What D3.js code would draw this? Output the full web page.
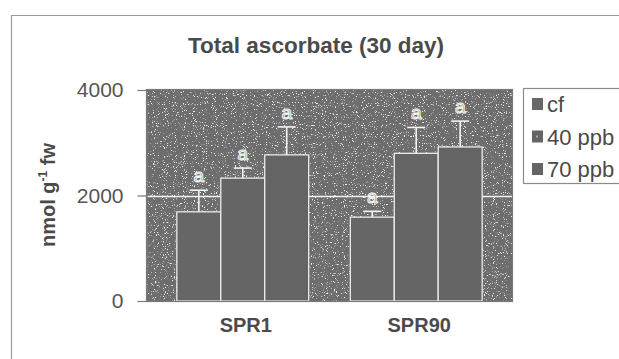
<!DOCTYPE html>
<html>
<head>
<meta charset="utf-8">
<script src="https://cdn.jsdelivr.net/npm/d3@7/dist/d3.min.js"></script>
<style>
  html, body { margin: 0; padding: 0; background: #fff; }
  svg { display: block; font-family: "Liberation Sans", Arial, sans-serif; }
</style>
</head>
<body>
<svg id="chart" width="619" height="359"></svg>
<script>
// Total ascorbate after 30 days, two lines under three ozone treatments
const categories = ["SPR1", "SPR90"];
const seriesNames = ["cf", "40 ppb", "70 ppb"];
const cfValues = [1690, 1590];
const ppb40Values = [2330, 2800];
const ppb70Values = [2770, 2920];
const cfErrors = [410, 110];
const ppb40Errors = [190, 490];
const ppb70Errors = [530, 490];
const cfLetters = ["a", "a"];
const ppb40Letters = ["a", "a"];
const ppb70Letters = ["a", "a"];
const yTicks = [0, 2000, 4000];

const rows = [];
categories.forEach((c, i) => {
  rows.push({ cat: c, series: "cf", value: cfValues[i], err: cfErrors[i], letter: cfLetters[i] });
  rows.push({ cat: c, series: "40 ppb", value: ppb40Values[i], err: ppb40Errors[i], letter: ppb40Letters[i] });
  rows.push({ cat: c, series: "70 ppb", value: ppb70Values[i], err: ppb70Errors[i], letter: ppb70Letters[i] });
});

const svg = d3.select("#chart");
const plot = { left: 146.5, right: 512.5, top: 90, bottom: 301 };

const y = d3.scaleLinear().domain([0, 4000]).range([plot.bottom, plot.top]);
const x0 = d3.scaleBand().domain(categories).range([plot.left, plot.right])
  .paddingInner(0.24).paddingOuter(0.175);
const x1 = d3.scaleBand().domain(seriesNames).range([0, x0.bandwidth()]);

const barFill = { "cf": "#666666", "40 ppb": "#656565", "70 ppb": "#646464" };

// grainy plot-area texture
const defs = svg.append("defs");
const f = defs.append("filter").attr("id", "grain")
  .attr("x", 0).attr("y", 0).attr("width", 1).attr("height", 1);
f.append("feTurbulence").attr("type", "fractalNoise").attr("baseFrequency", 0.9)
  .attr("numOctaves", 2).attr("seed", 7).attr("result", "noise");
f.append("feColorMatrix").attr("in", "noise").attr("type", "matrix")
  .attr("values", "0 0 0 0 1  0 0 0 0 1  0 0 0 0 1  8 0 0 0 -4.9").attr("result", "specks");
f.append("feComposite").attr("in", "specks").attr("in2", "SourceAlpha").attr("operator", "in");

// outer chart frame
svg.append("line").attr("x1", 11).attr("x2", 619).attr("y1", 15.5).attr("y2", 15.5)
  .attr("stroke", "#9a9a9a").attr("stroke-width", 1.2);
svg.append("line").attr("x1", 11.5).attr("x2", 11.5).attr("y1", 15).attr("y2", 359)
  .attr("stroke", "#9a9a9a").attr("stroke-width", 1.2);

// title
svg.append("text").attr("x", 316).attr("y", 53).attr("text-anchor", "middle")
  .attr("font-size", 22.5).attr("font-weight", "bold").attr("fill", "#4a4a4a")
  .text("Total ascorbate (30 day)");

// plot background
svg.append("rect").attr("x", plot.left).attr("y", plot.top)
  .attr("width", plot.right - plot.left).attr("height", plot.bottom - plot.top)
  .attr("fill", "#6d6d6d");
svg.append("rect").attr("x", plot.left).attr("y", plot.top)
  .attr("width", plot.right - plot.left).attr("height", plot.bottom - plot.top)
  .attr("fill", "#fff").attr("filter", "url(#grain)").attr("opacity", 0.9);

// gridline
svg.append("g").selectAll("line").data(yTicks.filter(t => t > 0 && t < 4000)).join("line")
  .attr("x1", plot.left).attr("x2", plot.right)
  .attr("y1", d => Math.round(y(d)) + 0.5).attr("y2", d => Math.round(y(d)) + 0.5)
  .attr("stroke", "#f2f2f2").attr("stroke-width", 1.3);

// bars
const groups = svg.append("g").selectAll("g").data(categories).join("g")
  .attr("transform", d => `translate(${x0(d)},0)`);
groups.selectAll("rect").data(c => rows.filter(r => r.cat === c)).join("rect")
  .attr("x", d => x1(d.series)).attr("width", x1.bandwidth())
  .attr("y", d => y(d.value)).attr("height", d => y(0) - y(d.value))
  .attr("fill", d => barFill[d.series]).attr("stroke", "#f4f4f4").attr("stroke-width", 1.2);

// error bars
const eb = groups.selectAll("g.err").data(c => rows.filter(r => r.cat === c)).join("g")
  .attr("class", "err")
  .attr("transform", d => `translate(${x1(d.series) + x1.bandwidth() / 2},0)`);
eb.append("line").attr("x1", 0).attr("x2", 0)
  .attr("y1", d => y(d.value)).attr("y2", d => y(d.value + d.err))
  .attr("stroke", "#f4f4f4").attr("stroke-width", 1.6);
eb.append("line").attr("x1", -9).attr("x2", 9)
  .attr("y1", d => y(d.value + d.err)).attr("y2", d => y(d.value + d.err))
  .attr("stroke", "#f4f4f4").attr("stroke-width", 1.6);
eb.append("text").attr("x", 0).attr("y", d => y(d.value + d.err) - 8)
  .attr("text-anchor", "middle").attr("font-size", 19)
  .attr("fill", "#6a6a6a").attr("stroke", "#f4f4f4").attr("stroke-width", 1.1)
  .text(d => d.letter);

// plot border
svg.append("rect").attr("x", plot.left).attr("y", plot.top - 0.5)
  .attr("width", plot.right - plot.left).attr("height", plot.bottom - plot.top + 1)
  .attr("fill", "none").attr("stroke", "#7a7a7a").attr("stroke-width", 1.2);

// y axis
const yAxis = svg.append("g").attr("transform", `translate(${plot.left},0)`)
  .call(d3.axisLeft(y).tickValues(yTicks).tickFormat(d3.format("d"))
    .tickSize(9).tickSizeOuter(0).tickPadding(14));
yAxis.select(".domain").attr("stroke", "#777").attr("stroke-width", 1.2);
yAxis.selectAll(".tick line").attr("stroke", "#777").attr("stroke-width", 1.2);
yAxis.selectAll(".tick text").attr("font-size", 21).attr("fill", "#555")
  .attr("font-family", "'Liberation Sans', Arial, sans-serif");

// y axis title
const yt = svg.append("text").attr("transform", "translate(55,195) rotate(-90)")
  .attr("text-anchor", "middle").attr("font-size", 20).attr("font-weight", "bold").attr("fill", "#4a4a4a");
yt.append("tspan").text("nmol g");
yt.append("tspan").attr("font-size", 12).attr("dy", -8).text("-1");
yt.append("tspan").attr("dy", 8).text(" fw");

// category labels
svg.append("g").selectAll("text").data(categories).join("text")
  .attr("x", d => x0(d) + x0.bandwidth() / 2 + 3).attr("y", 332)
  .attr("text-anchor", "middle").attr("font-size", 20).attr("font-weight", "bold")
  .attr("fill", "#4a4a4a").text(d => d);

// legend
const legend = svg.append("g");
legend.append("rect").attr("x", 523.5).attr("y", 88.5).attr("width", 120).attr("height", 95)
  .attr("fill", "#fff").attr("stroke", "#8a8a8a").attr("stroke-width", 1.2);
const li = legend.selectAll("g.item").data(seriesNames).join("g").attr("class", "item")
  .attr("transform", (d, i) => `translate(532,${104 + i * 32.5})`);
li.append("rect").attr("x", 0).attr("y", -6).attr("width", 11).attr("height", 12)
  .attr("fill", d => barFill[d]);
li.filter(d => d === "40 ppb").append("rect").attr("x", 4).attr("y", -1).attr("width", 2).attr("height", 2)
  .attr("fill", "#aaa");
li.append("text").attr("x", 15).attr("y", 8).attr("font-size", 22).attr("fill", "#4a4a4a").text(d => d);
</script>
</body>
</html>
